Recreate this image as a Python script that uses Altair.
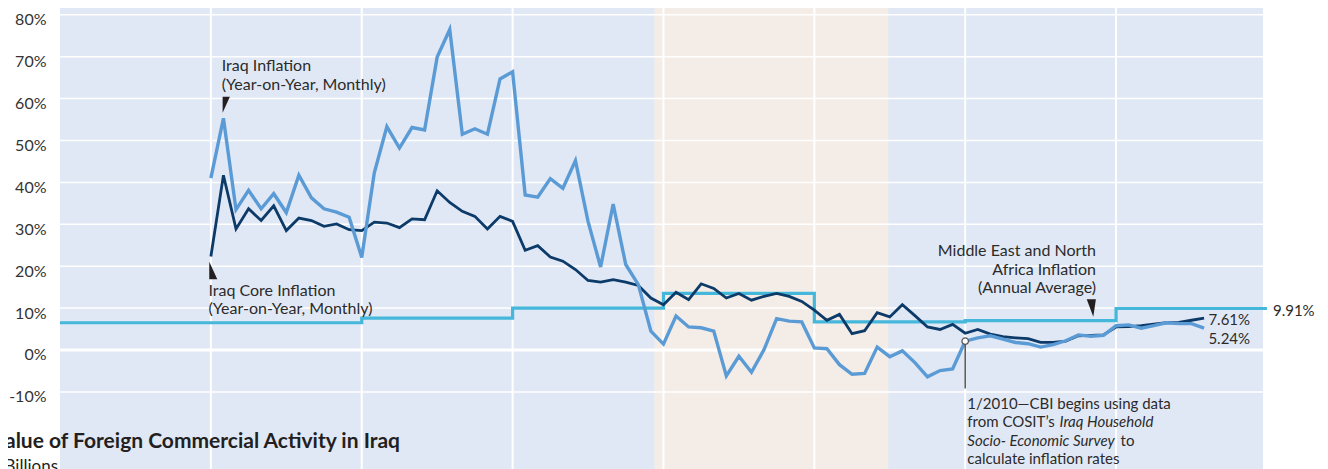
import altair as alt
import pandas as pd

# ---------------- data ----------------
START_YEAR = 2005  # monthly series start Jan 2005
iraq_inflation = [
    41.0, 55.3, 33.5, 38.1, 33.7, 37.3, 32.8, 41.7, 36.3, 33.7, 32.9, 31.7,   # 2005
    22.1, 42.3, 53.3, 48.2, 53.1, 52.5, 69.9, 76.5, 51.5, 52.8, 51.5, 64.7,   # 2006
    66.4, 37.0, 36.5, 40.9, 38.6, 45.2, 30.7, 19.8, 34.8, 20.4, 15.6, 4.5,    # 2007
    1.4, 8.1, 5.5, 5.3, 4.5, -6.2, -1.5, -5.3, 0.1, 7.5, 6.9, 6.7,            # 2008
    0.5, 0.3, -3.5, -5.8, -5.6, 0.7, -1.6, -0.2, -3.0, -6.4, -4.9, -4.5,      # 2009
    2.1, 2.9, 3.4, 2.6, 1.8, 1.5, 0.7, 1.3, 2.2, 3.6, 3.3, 3.5,               # 2010
    5.8, 6.0, 5.2, 5.8, 6.5, 6.3, 6.3, 5.24,                                  # 2011
]
iraq_core = [
    22.3, 41.7, 28.9, 33.7, 30.9, 34.4, 28.5, 31.5, 30.9, 29.5, 30.1, 28.7,   # 2005
    28.5, 30.5, 30.3, 29.2, 31.3, 31.1, 38.0, 35.2, 33.1, 31.9, 28.9, 31.9,   # 2006
    30.7, 23.8, 24.9, 22.2, 21.2, 19.2, 16.6, 16.2, 16.8, 16.2, 15.4, 12.4,   # 2007
    10.8, 13.8, 12.0, 15.8, 14.7, 12.4, 13.5, 11.9, 12.8, 13.5, 12.8, 11.6,   # 2008
    9.5, 7.1, 8.5, 3.9, 4.6, 8.9, 7.9, 10.8, 8.2, 5.5, 4.9, 6.1,              # 2009
    4.0, 4.9, 3.8, 3.2, 2.9, 2.7, 1.8, 1.8, 2.1, 3.4, 3.5, 3.6,               # 2010
    5.5, 5.6, 5.8, 6.2, 6.5, 6.6, 7.1, 7.61,                                  # 2011
]
mena_years = [2004, 2005, 2006, 2007, 2008, 2009, 2010, 2011, 2012]
mena_values = [6.5, 6.5, 7.6, 10.0, 13.5, 6.7, 7.0, 9.91, 9.91]

shaded_period = [2007.94, 2009.49]
y_ticks = [-10, 0, 10, 20, 30, 40, 50, 60, 70, 80]
year_ticks = [2005, 2006, 2007, 2008, 2009, 2010, 2011]

cbi_point = {"x": 2010.0, "y": 2.1, "y_end": -9.2}

# annotation text lines: (x, y, text)
ann_inflation = [(2005.072, 67.66, "Iraq Inflation"), (2005.072, 63.13, "(Year-on-Year, Monthly)")]
ann_core = [(2004.984, 14.08, "Iraq Core Inflation"), (2004.984, 9.79, "(Year-on-Year, Monthly)")]
ann_mena = [(2010.867, 23.63, "Middle East and North"), (2010.867, 19.21, "Africa Inflation"),
            (2010.867, 14.80, "(Annual Average)")]
ann_cbi_normal = [(2010.014, -12.89, "1/2010\u2014CBI begins using data"),
                  (2010.014, -17.30, "from COSIT\u2019s"),
                  (2011.030, -21.72, "to"),
                  (2010.014, -26.01, "calculate inflation rates")]
ann_cbi_italic = [(2010.625, -17.30, "Iraq Household"),
                  (2010.014, -21.72, "Socio- Economic Survey")]
end_labels = [(2012.04, 9.31, "9.91%"), (2011.612, 7.16, "7.61%"), (2011.612, 2.63, "5.24%")]

# triangles pointing at series: x, y, svg path, size
triangles = [
    (2005.102, 58.54, "M -0.45 -1 L 0.45 -1 L -0.45 1 Z", 256),
    (2005.016, 18.97, "M -0.455 -1 L -0.455 1 L 0.455 1 Z", 310),
    (2010.836, 10.02, "M -0.53 -1 L 0.53 -1 L 0.23 1 Z", 300),
]

# ---------------- build ----------------
W, H = 1203, 461
xs = alt.Scale(domain=[2004.0, 2011.974], nice=False, zero=False)
ys = alt.Scale(domain=[-28.4, 81.62], nice=False, zero=False)
yaxis = alt.Axis(values=y_ticks, labelExpr="datum.value + '%'", grid=False, ticks=False,
                 domain=False, labelPadding=14, labelFont="Lato", labelFontSize=16,
                 labelColor="#333333", labelBaseline="middle", labelOffset=5, title=None)

def X(f="x"):
    return alt.X(f"{f}:Q", scale=xs, axis=None)

def Y(f="y"):
    return alt.Y(f"{f}:Q", scale=ys, axis=yaxis)

def monthly(vals):
    return pd.DataFrame({"x": [START_YEAR + i / 12 for i in range(len(vals))], "y": vals})

TEXT_COLOR = "#2b2b2b"
FONT = "Lato"

def texts(rows, align="left", style="normal", size=15, weight="normal", color=TEXT_COLOR):
    df = pd.DataFrame(rows, columns=["x", "y", "t"])
    return alt.Chart(df).mark_text(align=align, baseline="middle", font=FONT, fontSize=size,
                                   fontStyle=style, fontWeight=weight, color=color).encode(
        x=X(), y=Y(), text="t:N")

shade = alt.Chart(pd.DataFrame({"x": [shaded_period[0]], "x2": [shaded_period[1]]})).mark_rect(
    color="#f4ede7").encode(x=X(), x2="x2:Q", y=alt.value(0), y2=alt.value(H))

hgrid = alt.Chart(pd.DataFrame({"y": [v for v in y_ticks if v != 0]})).mark_rule(
    color="white", strokeWidth=1.5).encode(y=Y())
zero = alt.Chart(pd.DataFrame({"y": [0]})).mark_rule(color="white", strokeWidth=3).encode(y=Y())
vgrid = alt.Chart(pd.DataFrame({"x": year_ticks})).mark_rule(color="white", strokeWidth=2).encode(x=X())

mena = alt.Chart(pd.DataFrame({"x": mena_years, "y": mena_values})).mark_line(
    color="#45b7db", strokeWidth=3.2, interpolate="step-after").encode(x=X(), y=Y())
core = alt.Chart(monthly(iraq_core)).mark_line(color="#0c3a69", strokeWidth=2.8).encode(x=X(), y=Y())
infl = alt.Chart(monthly(iraq_inflation)).mark_line(color="#5b9bd5", strokeWidth=3.4).encode(x=X(), y=Y())

leader = alt.Chart(pd.DataFrame({"x": [cbi_point["x"]], "y": [cbi_point["y"]], "y2": [cbi_point["y_end"]]})).mark_rule(
    color="#555555", strokeWidth=1.5).encode(x=X(), y=Y(), y2="y2:Q")
circle = alt.Chart(pd.DataFrame({"x": [cbi_point["x"]], "y": [cbi_point["y"]]})).mark_point(
    shape="circle", filled=True, fill="white", stroke="#555555", strokeWidth=1.3, size=42, opacity=1).encode(
    x=X(), y=Y())

tri = alt.Chart(pd.DataFrame(triangles, columns=["x", "y", "shape", "size"])).mark_point(
    filled=True, color="#231f20", opacity=1).encode(
    x=X(), y=Y(), shape=alt.Shape("shape:N", scale=None), size=alt.Size("size:Q", scale=None))

title_text = alt.Chart(pd.DataFrame({"t": ["Value of Foreign Commercial Activity in Iraq"]})).mark_text(
    align="right", baseline="alphabetic", font=FONT, fontSize=21, fontWeight="bold", color="#231f20").encode(
    x=alt.value(340), y=alt.value(440), text="t:N")
billions = alt.Chart(pd.DataFrame({"t": ["Billions"]})).mark_text(
    align="right", baseline="top", font=FONT, fontSize=17, color="#231f20").encode(
    x=alt.value(-2), y=alt.value(451), text="t:N")

chart = alt.layer(
    shade, hgrid, vgrid, zero, mena, core, infl, leader, circle, tri,
    texts(ann_inflation, size=16), texts(ann_core, size=16), texts(ann_mena, align="right", size=16),
    texts(ann_cbi_normal), texts(ann_cbi_italic, style="italic"),
    texts(end_labels), title_text, billions,
).properties(
    width=W, height=H,
    autosize=alt.AutoSizeParams(type="none"),
    padding={"left": 52, "top": 0, "right": 57, "bottom": 0},
).configure_view(stroke=None, fill="#e1e8f5")

chart.save("out.html", embed_options={"renderer": "svg", "actions": False})
